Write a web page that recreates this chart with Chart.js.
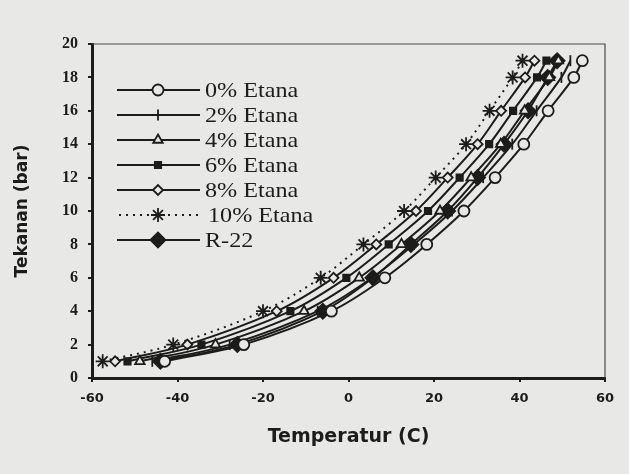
<!DOCTYPE html>
<html>
<head>
<meta charset="utf-8">
<script src="https://cdn.jsdelivr.net/npm/chart.js@4.4.1/dist/chart.umd.min.js"></script>
<style>
    html, body { margin: 0; padding: 0; background: #e8e8e6; }
    #wrap { width: 629px; height: 474px; position: relative; }
</style>
</head>
<body>
<div id="wrap"><canvas id="pressureChart" width="629" height="474"></canvas></div>
<script>
// Tekanan vs temperatur, HCR-12 with several ethane fractions and R-22
const pressureLevels = [1, 2, 4, 6, 8, 10, 12, 14, 16, 18, 19];

const temp0 = [-43, -24.5, -4, 8.5, 18.3, 27, 34.3, 41, 46.7, 52.7, 54.7];
const temp2 = [-45.9, -27.8, -7.2, 5.5, 15.3, 24.2, 31.5, 38.3, 44, 49.8, 51.9];
const temp4 = [-48.8, -31.1, -10.4, 2.5, 12.4, 21.4, 28.7, 35.6, 41.2, 47, 49.1];
const temp6 = [-51.7, -34.4, -13.6, -0.5, 9.4, 18.6, 26, 32.9, 38.5, 44.1, 46.3];
const temp8 = [-54.6, -37.7, -16.8, -3.5, 6.5, 15.8, 23.2, 30.2, 35.7, 41.3, 43.5];
const temp10 = [-57.5, -41, -20, -6.5, 3.5, 13, 20.4, 27.5, 33, 38.4, 40.7];
const tempR22 = [-44, -26, -6, 5.7, 14.6, 23.2, 30.2, 36.4, 42, 46.6, 48.8];

const seriesLabels = ['0% Etana', '2% Etana', '4% Etana', '6% Etana', '8% Etana', '10% Etana', 'R-22'];
const xTicks = [-60, -40, -20, 0, 20, 40, 60];
const yTicks = [0, 2, 4, 6, 8, 10, 12, 14, 16, 18, 20];

const INK = '#1c1c1c';
const PAPER = '#e8e8e6';

function toPoints(temps) {
    return temps.map((t, i) => ({ x: t, y: pressureLevels[i] }));
}

// marker look per series (same order as seriesLabels)
const markers = [
    { style: 'circle', radius: 5.5, fill: PAPER },
    { style: 'line', radius: 5.5, fill: INK, rotation: 90 },
    { style: 'triangle', radius: 5.5, fill: PAPER },
    { style: 'rect', radius: 4.5, fill: INK },
    { style: 'rectRot', radius: 5, fill: PAPER },
    { style: 'star', radius: 7, fill: INK },
    { style: 'rectRot', radius: 7.5, fill: INK }
];

const allTemps = [temp0, temp2, temp4, temp6, temp8, temp10, tempR22];

const datasets = allTemps.map((temps, i) => ({
    label: seriesLabels[i],
    data: toPoints(temps),
    showLine: true,
    tension: 0.35,
    borderColor: INK,
    borderWidth: 2,
    borderDash: i === 5 ? [2, 5] : [],
    pointStyle: markers[i].style,
    pointRadius: markers[i].radius,
    pointRotation: markers[i].rotation || 0,
    pointBackgroundColor: markers[i].fill,
    pointBorderColor: INK,
    pointBorderWidth: 1.8
}));

// thin frame on top and right of the plot
const framePlugin = {
    id: 'frame',
    afterDraw(chart) {
        const { ctx, chartArea: a } = chart;
        ctx.save();
        ctx.strokeStyle = '#4a4a4a';
        ctx.lineWidth = 1.2;
        ctx.beginPath();
        ctx.moveTo(a.left, a.top);
        ctx.lineTo(a.right, a.top);
        ctx.lineTo(a.right, a.bottom);
        ctx.stroke();
        ctx.restore();
    }
};

// legend inside the plot, line + marker + label like the original
const legendPlugin = {
    id: 'insideLegend',
    afterDraw(chart) {
        const ctx = chart.ctx;
        const x0 = 117, x1 = 200, xm = 158, xt = 205;
        ctx.save();
        seriesLabels.forEach((label, i) => {
            const y = 90 + i * 25;
            ctx.strokeStyle = INK;
            ctx.lineWidth = 2;
            ctx.setLineDash(i === 5 ? [2, 5] : []);
            ctx.beginPath();
            ctx.moveTo(i === 5 ? x0 + 2 : x0, y);
            ctx.lineTo(i === 5 ? x1 + 2 : x1, y);
            ctx.stroke();
            ctx.setLineDash([]);
            ctx.lineWidth = 1.8;
            ctx.fillStyle = markers[i].fill;
            Chart.helpers.drawPoint(ctx, {
                pointStyle: markers[i].style,
                radius: markers[i].radius,
                rotation: markers[i].rotation || 0,
                borderWidth: 1.8
            }, xm, y);
            // scanned text is a bit wider than plain Times
            ctx.save();
            ctx.translate(i === 5 ? xt + 3 : xt, y + 1);
            ctx.scale(1.15, 1);
            ctx.fillStyle = INK;
            ctx.font = '21px "Liberation Serif", "Times New Roman", serif';
            ctx.textBaseline = 'middle';
            ctx.textAlign = 'left';
            ctx.fillText(label, 0, 0);
            ctx.restore();
        });
        ctx.restore();
    }
};

const chart = new Chart(document.getElementById('pressureChart').getContext('2d'), {
    type: 'scatter',
    data: { datasets },
    options: {
        responsive: false,
        animation: false,
        layout: { padding: { left: 0, right: 24, top: 44, bottom: 0 } },
        plugins: {
            legend: { display: false },
            tooltip: { enabled: false }
        },
        scales: {
            x: {
                min: -60,
                max: 60,
                afterBuildTicks: scale => { scale.ticks = xTicks.map(v => ({ value: v })); },
                afterFit: scale => { scale.height = 96; },
                grid: { drawOnChartArea: false, drawTicks: true, tickLength: 4, color: INK, lineWidth: 2 },
                border: { display: true, color: INK, width: 3 },
                ticks: {
                    color: INK,
                    padding: 9,
                    maxRotation: 0,
                    font: { family: '"DejaVu Sans", sans-serif', size: 13, weight: 'bold' }
                },
                title: {
                    display: true,
                    text: 'Temperatur (C)',
                    color: INK,
                    padding: { top: 0, bottom: 26 },
                    font: { family: '"DejaVu Sans", sans-serif', size: 19, weight: 'bold' }
                }
            },
            y: {
                min: 0,
                max: 20,
                afterBuildTicks: scale => { scale.ticks = yTicks.map(v => ({ value: v })); },
                afterFit: scale => { scale.width = 92; },
                grid: { drawOnChartArea: false, drawTicks: true, tickLength: 4, color: INK, lineWidth: 2 },
                border: { display: true, color: INK, width: 3 },
                ticks: {
                    color: INK,
                    padding: 10,
                    font: { family: '"Liberation Serif", serif', size: 16, weight: 'bold' }
                },
                title: {
                    display: true,
                    text: 'Tekanan (bar)',
                    color: INK,
                    padding: { top: 12, bottom: 0 },
                    font: { family: '"DejaVu Sans", sans-serif', size: 17, weight: 'bold' }
                }
            }
        }
    },
    plugins: [framePlugin, legendPlugin]
});
</script>
</body>
</html>
